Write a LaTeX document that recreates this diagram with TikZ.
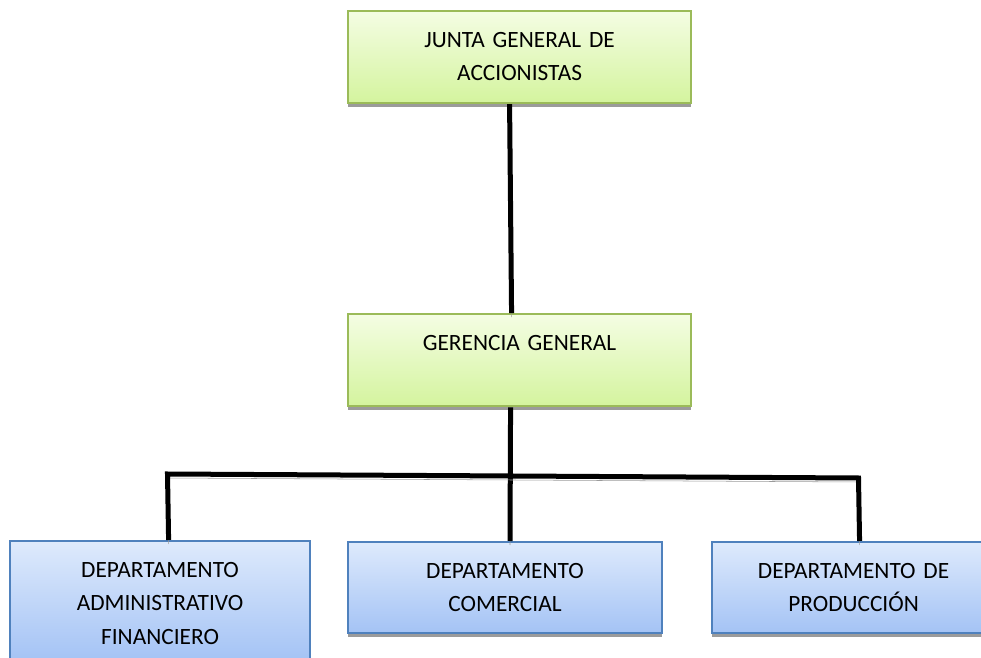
\documentclass[tikz,border=0pt]{standalone}
\usepackage{xcolor}
\usepackage{fontspec}
\setmainfont{Carlito}
\usepackage{tikz}
\usetikzlibrary{
arrows.meta,
positioning,
shadows,
calc
}
\definecolor{OrgGreenTop}{HTML}{F4FDE3}
\definecolor{OrgGreenBot}{HTML}{D4F49E}
\definecolor{OrgGreenLine}{HTML}{9BBB59}
\definecolor{OrgBlueTop}{HTML}{DEEAFC}
\definecolor{OrgBlueBot}{HTML}{A4C3F5}
\definecolor{OrgBlueLine}{HTML}{4F81BD}
\definecolor{OrgShadow}{HTML}{9B9B9B}
\tikzset{
orgbase/.style={rectangle, align=center, inner xsep=0pt, inner ysep=0pt,
  line width=1.6pt, text height=27pt,
  font=\fontsize{17.5}{25.1}\selectfont,
  general shadow={fill=OrgShadow, shadow yshift=-3pt}},
orgtop/.style={orgbase, draw=OrgGreenLine, top color=OrgGreenTop, bottom color=OrgGreenBot,
  text width=257.25pt, text depth=42pt},
orgdept/.style={orgbase, draw=OrgBlueLine, top color=OrgBlueTop, bottom color=OrgBlueBot,
  text depth=41.25pt},
orgline/.style={line width=3.75pt, draw=black, line join=miter,
  preaction={draw=OrgShadow, transform canvas={yshift=-3pt}}}
}
\begin{document}
\begin{tikzpicture}[x=0.75pt, y=0.75pt]
\useasboundingbox (0,0) rectangle (981,657);
\node[orgtop, anchor=north west] (junta) at (347,647) {JUNTA GENERAL DE\\ACCIONISTAS};
\node[orgtop, below=156.75pt of junta] (gerencia) {GERENCIA GENERAL};
\node[orgdept, text width=235.5pt, anchor=north] (comercial) at (505,116) {DEPARTAMENTO\\COMERCIAL};
\node[orgdept, text width=225pt, text depth=63pt, anchor=north west] (admin) at (9,117) {DEPARTAMENTO\\ADMINISTRATIVO\\FINANCIERO};
\node[orgdept, text width=212.25pt, anchor=north west] (produccion) at (711,116) {DEPARTAMENTO DE\\PRODUCCIÓN};

\coordinate (busleft) at (167.5,183);
\coordinate (busright) at (858.5,179);

\draw[orgline] ([xshift=-7.5pt]junta.south) -- ([xshift=-6pt]gerencia.north);
\draw[orgline] ([xshift=-6.75pt]gerencia.south) -- ([xshift=3.75pt]comercial.north);
\draw[orgline] ([xshift=6.4pt]admin.north) -- (busleft) -- (busright) -- ([xshift=4.5pt]produccion.north);
\end{tikzpicture}
\end{document}
